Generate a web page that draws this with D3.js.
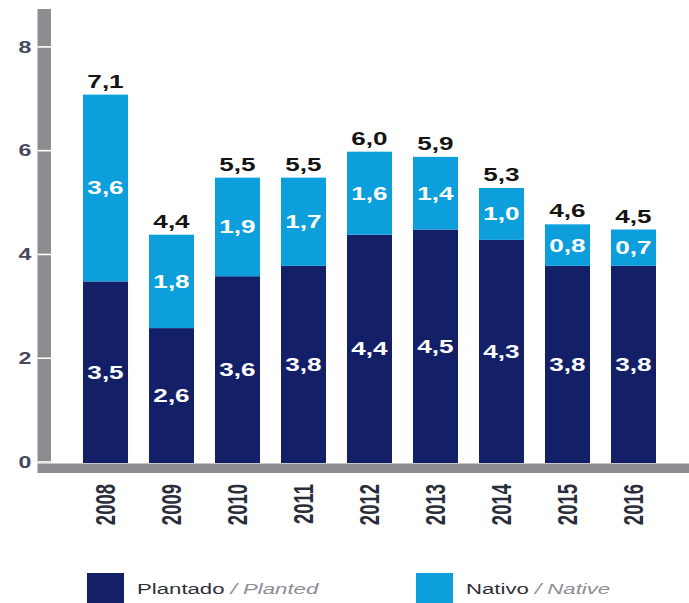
<html>
<head>
<meta charset="utf-8">
<title>Plantado / Nativo</title>
<style>
  body { margin: 0; background: #fff; }
  text { font-family: "Liberation Sans", Arial, sans-serif; }
  .yAxis path { display: none; }
  .yAxis line { stroke: #ffffff; stroke-width: 1.6; }
</style>
<script src="https://d3js.org/d3.v7.min.js"></script>
</head>
<body>
<script>
// data
var years = ["2008", "2009", "2010", "2011", "2012", "2013", "2014", "2015", "2016"];
var planted = [3.5, 2.6, 3.6, 3.8, 4.4, 4.5, 4.3, 3.8, 3.8];
var native = [3.6, 1.8, 1.9, 1.7, 1.6, 1.4, 1.0, 0.8, 0.7];
var totals = [7.1, 4.4, 5.5, 5.5, 6.0, 5.9, 5.3, 4.6, 4.5];
var yTicks = [0, 2, 4, 6, 8];
var seriesKeys = ["planted", "native"];
var legendMain = ["Plantado", "Nativo"];
var legendSub = ["Planted", "Native"];

var colors = { planted: "#132067", native: "#0c9fdc" };
var axisGray = "#8d8d91";
var stretch = 1.45; // the picture's text is wide, stretch it sideways

var width = 689, height = 603;
var svg = d3.select("body").append("svg")
    .attr("width", width)
    .attr("height", height);

var x = d3.scaleBand()
    .domain(years)
    .range([83, 656])
    .paddingInner(0.318)
    .paddingOuter(0);

var y = d3.scaleLinear()
    .domain([0, 8.75])
    .range([463, 9]);

var comma = d3.formatLocale({ decimal: ",", thousands: ".", grouping: [3], currency: ["", ""] }).format(".1f");

// table for the stack
var rows = years.map(function(yr, i) {
  return { year: yr, planted: planted[i], native: native[i], total: totals[i] };
});
var stacked = d3.stack().keys(seriesKeys)(rows);

/********* axis frame *********/
var axisX0 = 37.5, axisX1 = 51;
svg.append("rect")
    .attr("x", axisX0)
    .attr("y", y.range()[1])
    .attr("width", axisX1 - axisX0)
    .attr("height", y(0) - y.range()[1])
    .attr("fill", axisGray);
svg.append("rect")
    .attr("x", axisX0)
    .attr("y", y(0) + 0.5)
    .attr("width", width - axisX0)
    .attr("height", 9.5)
    .attr("fill", axisGray);

var yAxis = d3.axisLeft(y)
    .tickValues(yTicks)
    .tickSize(-(axisX1 - axisX0 + 1))
    .tickFormat(d3.format("d"));
var gY = svg.append("g")
    .attr("class", "yAxis")
    .attr("transform", "translate(" + axisX0 + ",0)")
    .call(yAxis);
gY.selectAll(".tick line").attr("y1", -1.5).attr("y2", -1.5);
gY.selectAll(".tick text")
    .attr("x", 0)
    .attr("dy", "0.35em")
    .attr("transform", "translate(-6,-1.5) scale(" + stretch + ",1)")
    .attr("text-anchor", "end")
    .attr("font-size", 16)
    .attr("font-weight", "bold")
    .attr("fill", "#45475b");

/********* bars *********/
var layers = svg.selectAll(".layer")
    .data(stacked)
    .enter().append("g")
    .attr("class", "layer")
    .attr("fill", function(d) { return colors[d.key]; });

layers.selectAll("rect")
    .data(function(d) { return d; })
    .enter().append("rect")
    .attr("x", function(d) { return x(d.data.year); })
    .attr("y", function(d) { return y(d[1]); })
    .attr("width", x.bandwidth())
    .attr("height", function(d) { return y(d[0]) - y(d[1]); });

// values inside segments
layers.selectAll("text")
    .data(function(d) { return d.map(function(p) { p.key = d.key; return p; }); })
    .enter().append("text")
    .attr("transform", function(d) {
      var cx = x(d.data.year) + x.bandwidth() / 2;
      var cy = (y(d[0]) + y(d[1])) / 2;
      return "translate(" + cx + "," + cy + ") scale(" + stretch + ",1)";
    })
    .attr("dy", "0.36em")
    .attr("text-anchor", "middle")
    .attr("font-size", 18)
    .attr("font-weight", "bold")
    .attr("fill", "#ffffff")
    .text(function(d) { return comma(d.data[d.key]); });

// totals on top
svg.selectAll(".total")
    .data(rows)
    .enter().append("text")
    .attr("class", "total")
    .attr("transform", function(d) {
      return "translate(" + (x(d.year) + x.bandwidth() / 2) + "," + (y(d.total) - 7) + ") scale(" + stretch + ",1)";
    })
    .attr("text-anchor", "middle")
    .attr("font-size", 18)
    .attr("font-weight", "bold")
    .attr("fill", "#141414")
    .text(function(d) { return comma(d.total); });

/********* year labels *********/
svg.selectAll(".year")
    .data(years)
    .enter().append("text")
    .attr("class", "year")
    .attr("transform", function(d) {
      return "translate(" + (x(d) + x.bandwidth() / 2) + ",484) scale(" + stretch + ",1) rotate(-90)";
    })
    .attr("dy", "0.36em")
    .attr("text-anchor", "end")
    .attr("font-size", 18.5)
    .attr("font-weight", "bold")
    .attr("fill", "#2a2d3a")
    .text(function(d) { return d; });

/********* legend *********/
var legendX = [87, 416];
var legend = svg.selectAll(".legend")
    .data(seriesKeys)
    .enter().append("g")
    .attr("class", "legend")
    .attr("transform", function(d, i) { return "translate(" + legendX[i] + ",573)"; });

legend.append("rect")
    .attr("width", 37)
    .attr("height", 37)
    .attr("fill", function(d) { return colors[d]; });

var lt = legend.append("text")
    .attr("transform", "translate(50,21) scale(" + stretch + ",1)")
    .attr("font-size", 15.3);
lt.append("tspan")
    .attr("fill", "#2f2f38")
    .text(function(d, i) { return legendMain[i]; });
lt.append("tspan")
    .attr("fill", "#8c8c94")
    .attr("font-style", "italic")
    .text(function(d, i) { return " / " + legendSub[i]; });
</script>
</body>
</html>
